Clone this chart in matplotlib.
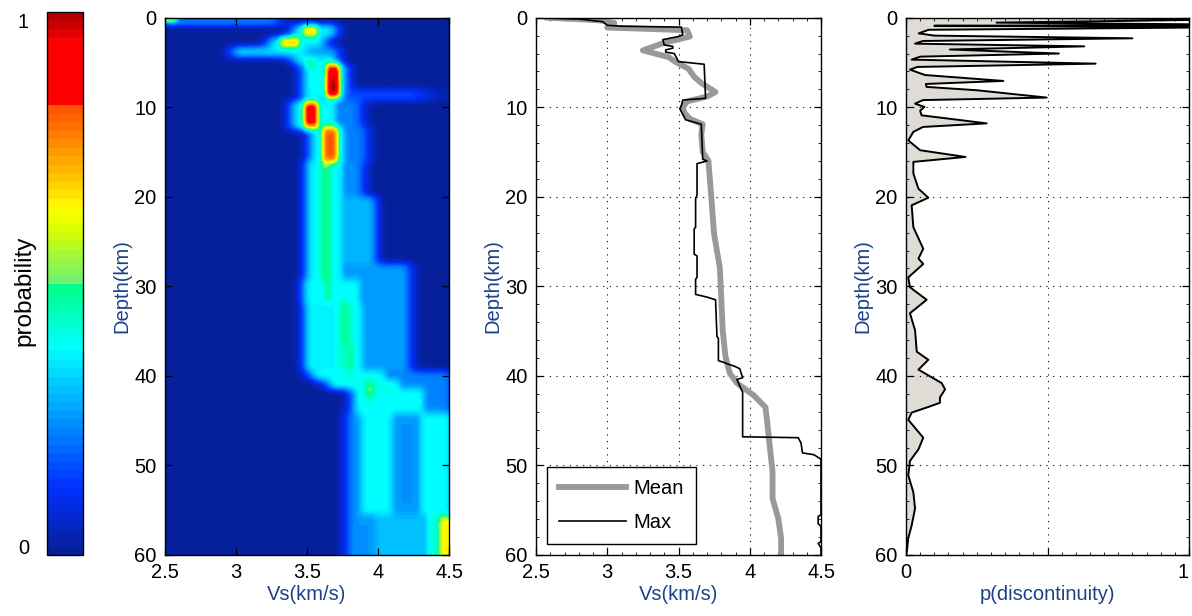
import numpy as np
import matplotlib
matplotlib.use('Agg')
import matplotlib.pyplot as plt
from matplotlib.colors import LinearSegmentedColormap
from matplotlib.ticker import MultipleLocator

plt.rcParams['font.family'] = ['Liberation Sans', 'DejaVu Sans']
plt.rcParams['font.size'] = 14.5

LABEL_BLUE = '#1b4289'

# --- regions ---
# depth top/bottom (km), Vs range of the plateau (km/s), edge softness, probability
blob_top = [0.1, 0.0, 0.8, 0.9, 2.2, 2.3, 3.3, 3.3, 4.3, 4.8, 5.2, 5.3, 7.0, 8.0,
            9.3, 9.3, 9.4, 12.2, 12.2, 12.3, 16.0, 16.0, 16.2, 20.0, 27.5,
            29.3, 29.3, 31.8, 32.0, 36.5, 33.0, 39.5, 40.5, 40.8, 41.5, 39.5,
            44.2, 44.2, 44.2, 55.5, 55.5, 55.8, 16.3, 32.0]
blob_bot = [0.8, 0.35, 2.2, 2.0, 3.4, 3.3, 4.4, 4.4, 5.3, 5.4, 9.0, 7.2, 8.9, 9.3,
            12.5, 12.5, 12.3, 16.3, 16.3, 16.1, 29.5, 20.0, 29.5, 27.5, 33.0,
            32.0, 31.6, 36.5, 39.5, 39.5, 39.5, 40.5, 41.5, 42.4, 44.2, 44.2,
            55.5, 55.5, 60.0, 60.0, 60.0, 60.0, 29.3, 39.3]
blob_lo = [2.62, 2.50, 3.46, 3.49, 3.29, 3.33, 3.04, 3.50, 3.46, 3.50, 3.53, 3.655, 3.655, 3.78,
           3.45, 3.68, 3.50, 3.58, 3.72, 3.63, 3.54, 3.72, 3.618, 3.74, 3.80,
           3.52, 3.635, 3.755, 3.53, 3.785, 3.86, 3.60, 3.72, 3.925, 3.88, 4.12,
           3.92, 4.33, 3.84, 4.00, 4.37, 4.46, 3.59, 3.72]
blob_hi = [3.22, 2.54, 3.64, 3.55, 3.56, 3.42, 3.46, 3.66, 3.64, 3.54, 3.71, 3.705, 3.705, 4.20,
           3.66, 3.82, 3.55, 3.72, 3.86, 3.69, 3.72, 3.83, 3.632, 3.93, 4.16,
           3.84, 3.655, 3.775, 3.86, 3.815, 4.16, 4.00, 4.10, 3.955, 4.28, 4.45,
           4.06, 4.47, 4.46, 4.33, 4.45, 4.50, 3.67, 3.82]
blob_edge = [0.08, 0.03, 0.06, 0.03, 0.06, 0.03, 0.07, 0.06, 0.06, 0.02, 0.06, 0.025, 0.025, 0.15,
             0.06, 0.06, 0.03, 0.06, 0.06, 0.03, 0.05, 0.06, 0.015, 0.05, 0.06,
             0.05, 0.02, 0.02, 0.05, 0.02, 0.06, 0.07, 0.07, 0.03, 0.06, 0.07,
             0.07, 0.06, 0.06, 0.06, 0.04, 0.04, 0.03, 0.03]
blob_p = [0.31, 0.92, 0.37, 0.70, 0.37, 0.76, 0.35, 0.25, 0.37, 0.52, 0.39, 0.95, 1.00, 0.16,
          0.38, 0.22, 0.90, 0.38, 0.22, 0.82, 0.37, 0.24, 0.53, 0.29, 0.26,
          0.38, 0.50, 0.50, 0.37, 0.48, 0.26, 0.39, 0.40, 0.52, 0.39, 0.23,
          0.38, 0.38, 0.25, 0.30, 0.42, 0.65, 0.44, 0.43]

# --- mean and maximum-probability profiles ---
mean_depth = [0.0, 0.3, 0.6, 1.1, 1.4, 2.1, 2.8, 3.65, 4.4, 4.95, 5.7, 6.6, 7.3, 7.9, 8.3,
              8.8, 9.35, 10.0, 10.6, 11.3, 11.9, 13.0, 15.0, 16.0, 20.0, 24.2, 27.9, 31.3,
              34.9, 37.9, 39.7, 40.8, 42.2, 43.5, 44.8, 47.8, 50.7, 53.7, 55.9, 58.1, 60.0]
mean_vs = [2.58, 2.95, 3.05, 3.00, 3.56, 3.58, 3.40, 3.25, 3.43, 3.48, 3.57, 3.61, 3.66, 3.72, 3.76,
           3.70, 3.56, 3.53, 3.54, 3.58, 3.67, 3.66, 3.67, 3.71, 3.73, 3.75, 3.79, 3.80,
           3.81, 3.83, 3.86, 3.91, 4.03, 4.11, 4.12, 4.14, 4.16, 4.16, 4.20, 4.22, 4.22]

max_depth = [0.0, 0.15, 0.45, 0.85, 0.95, 1.05, 1.9, 2.1, 2.45, 3.05, 3.2, 3.4, 3.6, 3.85, 4.0,
             4.9, 5.2, 9.0, 9.2, 9.8, 10.2, 10.8, 11.4, 11.9, 15.8, 16.0, 16.3, 19.8, 20.2,
             23.4, 23.6, 26.4, 26.6, 29.0, 29.2, 30.9, 31.2, 31.5, 35.6, 35.8, 38.3, 38.5,
             38.7, 38.9, 39.2, 40.2, 40.4, 41.5, 41.8, 46.8, 46.9, 47.5, 48.6, 48.8, 49.3,
             55.5, 55.7, 56.5, 56.8, 58.5, 58.7, 59.2, 60.0]
max_vs = [2.50, 2.80, 2.97, 3.00, 3.10, 3.52, 3.53, 3.50, 3.39, 3.40, 3.46, 3.46, 3.41, 3.41, 3.47,
          3.50, 3.68, 3.69, 3.53, 3.52, 3.51, 3.53, 3.55, 3.66, 3.67, 3.70, 3.63, 3.63, 3.62,
          3.62, 3.61, 3.61, 3.63, 3.63, 3.62, 3.62, 3.70, 3.76, 3.77, 3.78, 3.78, 3.82,
          3.85, 3.89, 3.93, 3.95, 3.91, 3.94, 3.95, 3.95, 4.34, 4.36, 4.37, 4.45, 4.50,
          4.50, 4.48, 4.48, 4.50, 4.50, 4.48, 4.50, 4.50]

# --- probability of a discontinuity with depth ---
disc_depth = [0.0, 0.15, 0.55, 0.8, 0.9, 1.05, 1.35, 1.75, 2.0, 2.3, 2.6, 2.9, 3.2, 3.55, 4.0,
              4.35, 4.68, 5.13, 5.5, 5.8, 6.4, 7.06, 7.4, 7.73, 8.1, 8.92, 9.2, 9.6, 9.96,
              10.4, 10.9, 11.8, 12.2, 12.75, 13.7, 14.8, 15.55, 16.1, 17.4, 19.1, 20.1, 20.95,
              23.4, 25.8, 26.9, 27.5, 29.0, 30.1, 31.5, 33.0, 34.9, 37.3, 38.2, 39.3, 40.8,
              41.5, 42.4, 43.0, 43.4, 44.1, 44.9, 46.9, 48.2, 49.5, 51.1, 53.0, 54.8, 56.7,
              58.1, 59.6, 60.0]
disc_p = [0.23, 1.25, 0.32, 1.25, 0.10, 1.20, 0.08, 0.045, 0.10, 0.80, 0.06, 0.032, 0.63, 0.155, 0.54,
          0.05, 0.02, 0.67, 0.04, 0.014, 0.067, 0.344, 0.07, 0.073, 0.25, 0.497, 0.06, 0.032, 0.065,
          0.05, 0.055, 0.285, 0.06, 0.026, 0.008, 0.05, 0.21, 0.026, 0.026, 0.044, 0.079, 0.02,
          0.026, 0.061, 0.044, 0.061, 0.008, 0.014, 0.073, 0.014, 0.032, 0.038, 0.079, 0.044, 0.126,
          0.138, 0.12, 0.12, 0.085, 0.02, 0.008, 0.061, 0.044, 0.014, 0.008, 0.026, 0.032, 0.02,
          0.008, 0.003, 0.0]

vs_ticks = [2.5, 3, 3.5, 4, 4.5]
vs_ticklabels = ['2.5', '3', '3.5', '4', '4.5']
depth_ticks = [0, 10, 20, 30, 40, 50, 60]

# colormap: jet-like, 64 steps, as in the colour bar
cmap_pos = [0.0, 0.12, 0.26, 0.38, 0.495, 0.505, 0.6, 0.64, 0.68, 0.83, 0.835, 0.95, 1.0]
cmap_col = ['#06209c', '#0030ff', '#00a0ff', '#00ffff', '#00ff88', '#70f070', '#d8ff00',
            '#ffff00', '#ffd400', '#ff5000', '#ff0000', '#ff0000', '#b00000']
cmap = LinearSegmentedColormap.from_list('prob', list(zip(cmap_pos, cmap_col)), N=64)

# build the density image from the regions
vs_grid = np.linspace(2.5, 4.5, 201)
depth_grid = np.linspace(0, 60, 601)
prob = np.zeros((len(depth_grid), len(vs_grid)))
for t, b, lo, hi, e, a in zip(blob_top, blob_bot, blob_lo, blob_hi, blob_edge, blob_p):
    rows = (depth_grid >= t) & (depth_grid <= b)
    dist = np.maximum(np.maximum(lo - vs_grid, vs_grid - hi), 0)
    prob[rows] = np.maximum(prob[rows], a * np.exp(-0.5 * (dist / e) ** 2))


def smooth(arr, sig, axis):
    # gaussian blur along one axis, edges padded
    n = int(3 * sig)
    k = np.exp(-0.5 * (np.arange(-n, n + 1) / sig) ** 2)
    k /= k.sum()
    pad = [(0, 0), (0, 0)]
    pad[axis] = (n, n)
    p = np.pad(arr, pad, mode='edge')
    return np.apply_along_axis(lambda c: np.convolve(c, k, mode='valid'), axis, p)


prob = smooth(prob, 4.0, 0)
prob = smooth(prob, 1.5, 1)

W, H = 1192, 616


def rect(x0, x1, y0, y1):
    # pixel box -> figure fraction
    return [x0 / W, 1 - y1 / H, (x1 - x0) / W, (y1 - y0) / H]


fig = plt.figure(figsize=(W / 100, H / 100), dpi=100)
cax = fig.add_axes(rect(47, 83, 12, 555))
ax1 = fig.add_axes(rect(165, 449, 17.7, 555))
ax2 = fig.add_axes(rect(536, 821, 17.7, 555))
ax3 = fig.add_axes(rect(906, 1189, 17.7, 555))

# panel 1: density
im = ax1.imshow(prob, extent=[2.5, 4.5, 60, 0], aspect='auto', cmap=cmap,
                vmin=0, vmax=1, interpolation='bilinear')
ax1.set_xlim(2.5, 4.5)
ax1.set_ylim(60, 0)

# panel 2: mean / max profiles
ax2.plot(mean_vs, mean_depth, color='#999999', lw=4.2, label='Mean', solid_joinstyle='round')
ax2.plot(max_vs, max_depth, color='k', lw=1.2, label='Max')
ax2.set_xlim(2.5, 4.5)
ax2.set_ylim(60, 0)
leg = ax2.legend(loc='lower left', fancybox=False, edgecolor='k', framealpha=1,
                 handlelength=3.3, borderaxespad=0.55, labelspacing=0.75, handletextpad=0.4,
                 borderpad=0.6)
leg.get_frame().set_linewidth(1.0)

# panel 3: discontinuity probability
ax3.fill_betweenx(disc_depth, 0, disc_p, color='#dfdbd5', lw=0)
ax3.plot(disc_p, disc_depth, color='k', lw=1.4)
ax3.set_xlim(0, 1)
ax3.set_ylim(60, 0)
ax3.set_xticks([0, 0.5, 1])
ax3.set_xticklabels(['0', '', '1'])
ax3.get_xticklabels()[2].set_horizontalalignment('right')

for ax in (ax1, ax2):
    ax.set_xticks(vs_ticks)
    ax.set_xticklabels(vs_ticklabels)
    ax.set_xlabel('Vs(km/s)', color=LABEL_BLUE, labelpad=2)
ax3.set_xlabel('p(discontinuity)', color=LABEL_BLUE, labelpad=2)

for ax in (ax1, ax2, ax3):
    ax.set_yticks(depth_ticks)
    ax.set_ylabel('Depth(km)', color=LABEL_BLUE, labelpad=2)
    ax.tick_params(direction='in', top=True, right=True, length=5, width=0.9, pad=6)
    for sp in ax.spines.values():
        sp.set_linewidth(1.0)

for ax in (ax2, ax3):
    ax.grid(True, color='k', linestyle=(0, (1, 5)), lw=0.8)
    ax.yaxis.set_minor_locator(MultipleLocator(2))
    ax.tick_params(which='minor', direction='in', top=True, right=True, length=2.5, width=0.6)
ax2.xaxis.set_minor_locator(MultipleLocator(0.1))
ax3.xaxis.set_minor_locator(MultipleLocator(0.05))

# colour bar
cb = fig.colorbar(im, cax=cax, ticks=[0.015, 0.985])
cb.set_ticklabels(['0', '1'])
cax.yaxis.set_ticks_position('left')
cax.tick_params(length=0, pad=13)
cb.outline.set_linewidth(1.0)
fig.text(24 / W, 1 - 291 / H, 'probability', rotation=90, ha='center', va='center',
         fontsize=17.5)

fig.savefig('out.png', dpi=100)
